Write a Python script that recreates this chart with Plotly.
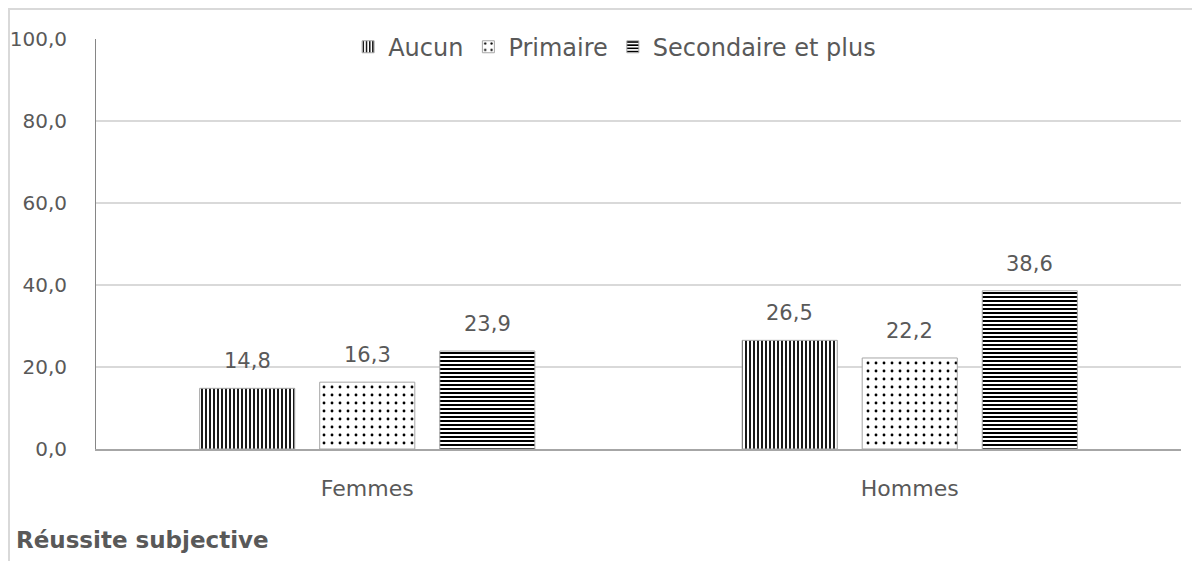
import plotly.graph_objects as go

categories = ["Femmes", "Hommes"]
series_names = ["Aucun", "Primaire", "Secondaire et plus"]
aucun = [14.8, 26.5]
primaire = [16.3, 22.2]
secondaire = [23.9, 38.6]
y_ticks = [0, 20, 40, 60, 80, 100]

FONT = "DejaVu Sans"
TXT = "#595959"
FS = 21

W, H = 1192, 553
L, R, T, B = 88, 19, 31, 112
BARGAP, GROUPGAP = 0.336, 0.208

patterns = [
    dict(shape="|", size=4, solidity=0.45, fgcolor="black", bgcolor="white", fillmode="replace"),
    dict(shape=".", size=8, solidity=0.1, fgcolor="black", bgcolor="white", fillmode="replace"),
    dict(shape="-", size=4, solidity=0.5, fgcolor="black", bgcolor="white", fillmode="replace"),
]

fig = go.Figure()
series = [aucun, primaire, secondaire]
for name, vals, pat in zip(series_names, series, patterns):
    fig.add_trace(go.Bar(
        x=categories, y=vals, name=name,
        marker=dict(color="white", pattern=pat, line=dict(color="#a6a6a6", width=1)),
        hoverinfo="x+y+name",
    ))

# value labels, placed above each bar through the axes
plot_w = W - L - R
cat_px = plot_w / len(categories)
slot_px = cat_px * (1 - BARGAP) / len(series)
annotations = []
for i, vals in enumerate(series):
    off = (i - (len(series) - 1) / 2) * slot_px
    for c, v in zip(categories, vals):
        annotations.append(dict(
            x=c, y=v, xref="x", yref="y", text=f"{v:.1f}".replace(".", ","),
            showarrow=False, xshift=off, yshift=27, yanchor="middle",
            font=dict(size=FS, color=TXT, family=FONT)))

annotations.append(dict(text="<b>Réussite subjective</b>", xref="paper", yref="paper",
                        x=-0.076, y=-0.222, xanchor="left", yanchor="middle", showarrow=False,
                        font=dict(size=23, color=TXT, family=FONT)))

fig.update_layout(
    width=W, height=H,
    margin=dict(l=L, r=R, t=T, b=B, autoexpand=False),
    paper_bgcolor="white", plot_bgcolor="white",
    separators=", ",
    barmode="group", bargap=BARGAP, bargroupgap=GROUPGAP,
    font=dict(family=FONT, size=FS, color=TXT),
    showlegend=True,
    legend=dict(orientation="h", x=0.478, xanchor="center", y=1.035, yanchor="top",
                font=dict(size=24, color=TXT, family=FONT), bgcolor="rgba(0,0,0,0)",
                itemwidth=30),
    xaxis=dict(showline=True, linecolor="#a6a6a6", linewidth=1.5, ticks="", automargin=False,
               tickfont=dict(size=22, color=TXT), ticklabelstandoff=19),
    yaxis=dict(range=[0, 100], tickvals=y_ticks, tickformat=".1f", automargin=False,
               showgrid=True, gridcolor="#d9d9d9", gridwidth=1.5,
               showline=True, linecolor="#868686", linewidth=1, ticks="",
               zeroline=False, tickfont=dict(size=20, color=TXT), ticklabelstandoff=24),
    shapes=[dict(type="rect", xref="paper", yref="paper",
                 x0=-0.0802, x1=1.05, y0=-0.4, y1=1.073,
                 line=dict(color="#d9d9d9", width=2), fillcolor="rgba(0,0,0,0)", layer="below")],
    annotations=annotations,
)

fig.write_html("out.html")
